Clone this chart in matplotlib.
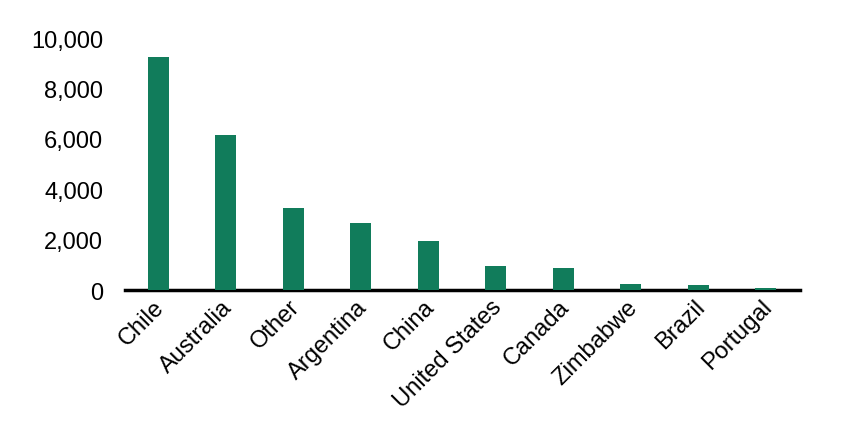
import matplotlib.pyplot as plt
from matplotlib.ticker import FuncFormatter
from matplotlib.transforms import ScaledTranslation

countries = ["Chile", "Australia", "Other", "Argentina", "China",
             "United States", "Canada", "Zimbabwe", "Brazil", "Portugal"]
values = [9250, 6150, 3250, 2650, 1950, 950, 870, 240, 200, 100]

plt.rcParams['font.family'] = ['Liberation Sans', 'DejaVu Sans']

fig = plt.figure(figsize=(8.48, 4.39), dpi=100)
ax = fig.add_axes([0.147, 0.337, 0.796, 0.574])

ax.bar(range(len(countries)), values, width=0.31, color="#117C5B", zorder=3)

ax.set_xlim(-0.5, len(countries) - 0.5)
ax.set_ylim(0, 10000)
ax.set_yticks(range(0, 10001, 2000))
ax.yaxis.set_major_formatter(FuncFormatter(lambda v, p: f"{int(v):,}"))
ax.set_xticks(range(len(countries)))
ax.set_xticklabels(countries, rotation=45, ha='right', rotation_mode='anchor')

for s in ['top', 'right', 'left']:
    ax.spines[s].set_visible(False)
ax.spines['bottom'].set_linewidth(2.5)
ax.spines['bottom'].set_zorder(2)
ax.tick_params(axis='y', length=0, pad=15.5, labelsize=17)
ax.tick_params(axis='x', length=0, pad=4, labelsize=17)

# nudge the rotated labels left a bit
offset = ScaledTranslation(-5 / 100, 0, fig.dpi_scale_trans)
for lbl in ax.get_xticklabels():
    lbl.set_transform(lbl.get_transform() + offset)

fig.savefig("out.png", dpi=100)
